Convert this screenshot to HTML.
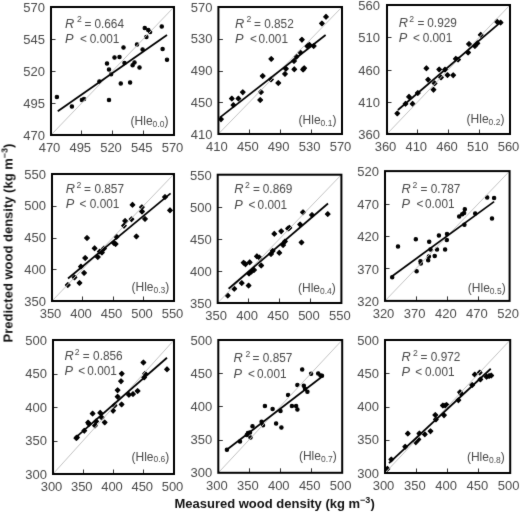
<!DOCTYPE html>
<html><head><meta charset="utf-8"><style>
html,body{margin:0;padding:0;background:#fff;}
svg{display:block;font-family:"Liberation Sans", sans-serif;will-change:transform;}
</style></head><body>
<svg width="520" height="512" viewBox="0 0 520 512">
<defs><filter id="bl" color-interpolation-filters="sRGB" x="0" y="0" width="520" height="512" filterUnits="userSpaceOnUse"><feConvolveMatrix order="3" kernelMatrix="0.01 0.07 0.01 0.07 0.68 0.07 0.01 0.07 0.01" divisor="1" edgeMode="duplicate"/></filter></defs>
<rect width="520" height="512" fill="#fff"/>
<g filter="url(#bl)"><rect width="520" height="512" fill="#fff"/>
<g fill="#4a4a4a">
<text transform="translate(49.50,152.00)" font-size="13" text-anchor="middle">470</text>
<text transform="translate(45.00,139.50)" font-size="13" text-anchor="end">470</text>
<line x1="81.50" y1="135" x2="81.50" y2="130.5" stroke="#333" stroke-width="1"/>
<line x1="51" y1="103.50" x2="55.5" y2="103.50" stroke="#333" stroke-width="1"/>
<text transform="translate(80.25,152.00)" font-size="13" text-anchor="middle">495</text>
<text transform="translate(45.00,107.50)" font-size="13" text-anchor="end">495</text>
<line x1="112.50" y1="135" x2="112.50" y2="130.5" stroke="#333" stroke-width="1"/>
<line x1="51" y1="71.50" x2="55.5" y2="71.50" stroke="#333" stroke-width="1"/>
<text transform="translate(111.00,152.00)" font-size="13" text-anchor="middle">520</text>
<text transform="translate(45.00,75.50)" font-size="13" text-anchor="end">520</text>
<line x1="143.50" y1="135" x2="143.50" y2="130.5" stroke="#333" stroke-width="1"/>
<line x1="51" y1="39.50" x2="55.5" y2="39.50" stroke="#333" stroke-width="1"/>
<text transform="translate(141.75,152.00)" font-size="13" text-anchor="middle">545</text>
<text transform="translate(45.00,43.50)" font-size="13" text-anchor="end">545</text>
<text transform="translate(172.50,152.00)" font-size="13" text-anchor="middle">570</text>
<text transform="translate(45.00,11.50)" font-size="13" text-anchor="end">570</text>
</g>
<g fill="#000" stroke="#000" stroke-width="1.1" stroke-linejoin="round">
<circle cx="56.9" cy="96.9" r="1.7"/>
<circle cx="71.9" cy="106.5" r="1.7"/>
<circle cx="81.9" cy="99.9" r="1.7"/>
<circle cx="84" cy="99" r="1.7"/>
<circle cx="99.4" cy="81.5" r="1.7"/>
<circle cx="107" cy="63.5" r="1.7"/>
<circle cx="109" cy="69.6" r="1.7"/>
<circle cx="111.1" cy="74.3" r="1.7"/>
<circle cx="109" cy="100" r="1.7"/>
<circle cx="114.5" cy="57.5" r="1.7"/>
<circle cx="119.5" cy="56.9" r="1.7"/>
<circle cx="120.75" cy="83.4" r="1.7"/>
<circle cx="123.5" cy="47.5" r="1.7"/>
<circle cx="124.5" cy="63.1" r="1.7"/>
<circle cx="130.1" cy="82.5" r="1.7"/>
<circle cx="132.6" cy="65.25" r="1.7"/>
<circle cx="134.5" cy="62.5" r="1.7"/>
<circle cx="137" cy="44.4" r="1.7"/>
<circle cx="139.5" cy="67.5" r="1.7"/>
<circle cx="142.6" cy="49.4" r="1.7"/>
<circle cx="144.75" cy="28.1" r="1.7"/>
<circle cx="148.25" cy="30" r="1.7"/>
<circle cx="150.1" cy="31.9" r="1.7"/>
<circle cx="146.4" cy="36.9" r="1.7"/>
<circle cx="161.75" cy="26.5" r="1.7"/>
<circle cx="162.6" cy="49.1" r="1.7"/>
<circle cx="167" cy="59.75" r="1.7"/>
</g>
<line x1="51" y1="135" x2="174" y2="7" stroke="#c4c4c4" stroke-width="1"/>
<line x1="57.75" y1="111.25" x2="167" y2="35" stroke="#000" stroke-width="1.75"/>
<rect x="51" y="7" width="123.00" height="128.00" fill="none" stroke="#000" stroke-width="2"/>
<g fill="#4a4a4a">
<text transform="translate(65.10,27.80)" font-size="12.8" font-style="italic">R</text>
<text transform="translate(77.10,22.40) scale(0.91,1.0)" font-size="9.5">2</text>
<text transform="translate(84.60,27.80) scale(0.91,1.0)" font-size="13">=</text>
<text transform="translate(94.40,27.80) scale(0.91,1.0)" font-size="13">0.664</text>
<text transform="translate(65.10,43.20)" font-size="12.8" font-style="italic">P</text>
<text transform="translate(80.00,43.20) scale(0.91,1.0)" font-size="13">&lt;</text>
<text transform="translate(89.80,43.20) scale(0.91,1.0)" font-size="13">0.001</text>
<text transform="translate(130.60,125.10)" font-size="12">(Hle<tspan font-size="8.5" dy="1.8">0.0</tspan><tspan dy="-1.8">)</tspan></text>
</g>
<g fill="#4a4a4a">
<text transform="translate(216.90,151.00)" font-size="13" text-anchor="middle">410</text>
<text transform="translate(212.40,138.50)" font-size="13" text-anchor="end">410</text>
<line x1="249.50" y1="134" x2="249.50" y2="129.5" stroke="#333" stroke-width="1"/>
<line x1="218.4" y1="102.50" x2="222.9" y2="102.50" stroke="#333" stroke-width="1"/>
<text transform="translate(247.80,151.00)" font-size="13" text-anchor="middle">450</text>
<text transform="translate(212.40,106.75)" font-size="13" text-anchor="end">450</text>
<line x1="280.50" y1="134" x2="280.50" y2="129.5" stroke="#333" stroke-width="1"/>
<line x1="218.4" y1="71.50" x2="222.9" y2="71.50" stroke="#333" stroke-width="1"/>
<text transform="translate(278.70,151.00)" font-size="13" text-anchor="middle">490</text>
<text transform="translate(212.40,75.00)" font-size="13" text-anchor="end">490</text>
<line x1="311.50" y1="134" x2="311.50" y2="129.5" stroke="#333" stroke-width="1"/>
<line x1="218.4" y1="39.50" x2="222.9" y2="39.50" stroke="#333" stroke-width="1"/>
<text transform="translate(309.60,151.00)" font-size="13" text-anchor="middle">530</text>
<text transform="translate(212.40,43.25)" font-size="13" text-anchor="end">530</text>
<text transform="translate(340.50,151.00)" font-size="13" text-anchor="middle">570</text>
<text transform="translate(212.40,11.50)" font-size="13" text-anchor="end">570</text>
</g>
<g fill="#000" stroke="#000" stroke-width="1.1" stroke-linejoin="round">
<path d="M326.00 14.45L328.35 16.80L326.00 19.15L323.65 16.80Z"/>
<path d="M321.90 21.05L324.25 23.40L321.90 25.75L319.55 23.40Z"/>
<path d="M301.90 37.35L304.25 39.70L301.90 42.05L299.55 39.70Z"/>
<path d="M307.20 43.65L309.55 46.00L307.20 48.35L304.85 46.00Z"/>
<path d="M309.40 42.45L311.75 44.80L309.40 47.15L307.05 44.80Z"/>
<path d="M313.70 43.65L316.05 46.00L313.70 48.35L311.35 46.00Z"/>
<path d="M300.30 50.05L302.65 52.40L300.30 54.75L297.95 52.40Z"/>
<path d="M296.50 54.35L298.85 56.70L296.50 59.05L294.15 56.70Z"/>
<path d="M294.00 58.65L296.35 61.00L294.00 63.35L291.65 61.00Z"/>
<path d="M271.25 56.55L273.60 58.90L271.25 61.25L268.90 58.90Z"/>
<path d="M303.10 67.15L305.45 69.50L303.10 71.85L300.75 69.50Z"/>
<path d="M304.20 65.85L306.55 68.20L304.20 70.55L301.85 68.20Z"/>
<path d="M294.30 66.95L296.65 69.30L294.30 71.65L291.95 69.30Z"/>
<path d="M285.90 66.40L288.25 68.75L285.90 71.10L283.55 68.75Z"/>
<path d="M285.00 71.55L287.35 73.90L285.00 76.25L282.65 73.90Z"/>
<path d="M262.70 73.65L265.05 76.00L262.70 78.35L260.35 76.00Z"/>
<path d="M271.00 77.05L273.35 79.40L271.00 81.75L268.65 79.40Z"/>
<path d="M278.30 80.65L280.65 83.00L278.30 85.35L275.95 83.00Z"/>
<path d="M242.80 89.85L245.15 92.20L242.80 94.55L240.45 92.20Z"/>
<path d="M261.00 89.75L263.35 92.10L261.00 94.45L258.65 92.10Z"/>
<path d="M260.20 97.65L262.55 100.00L260.20 102.35L257.85 100.00Z"/>
<path d="M231.80 96.25L234.15 98.60L231.80 100.95L229.45 98.60Z"/>
<path d="M238.40 96.25L240.75 98.60L238.40 100.95L236.05 98.60Z"/>
<path d="M233.40 102.75L235.75 105.10L233.40 107.45L231.05 105.10Z"/>
<path d="M221.00 116.85L223.35 119.20L221.00 121.55L218.65 119.20Z"/>
</g>
<line x1="218.4" y1="134" x2="342" y2="7" stroke="#c4c4c4" stroke-width="1"/>
<line x1="219.75" y1="117.6" x2="325.6" y2="35" stroke="#000" stroke-width="1.75"/>
<rect x="218.4" y="7" width="123.60" height="127.00" fill="none" stroke="#000" stroke-width="2"/>
<g fill="#4a4a4a">
<text transform="translate(235.00,27.80)" font-size="12.8" font-style="italic">R</text>
<text transform="translate(246.40,22.40) scale(0.91,1.0)" font-size="9.5">2</text>
<text transform="translate(253.90,27.80) scale(0.91,1.0)" font-size="13">=</text>
<text transform="translate(264.20,27.80) scale(0.91,1.0)" font-size="13">0.852</text>
<text transform="translate(235.00,42.60)" font-size="12.8" font-style="italic">P</text>
<text transform="translate(249.90,42.60) scale(0.91,1.0)" font-size="13">&lt;</text>
<text transform="translate(258.40,42.60) scale(0.91,1.0)" font-size="13">0.001</text>
<text transform="translate(298.60,124.00)" font-size="12">(Hle<tspan font-size="8.5" dy="1.8">0.1</tspan><tspan dy="-1.8">)</tspan></text>
</g>
<g fill="#4a4a4a">
<text transform="translate(385.50,151.00)" font-size="13" text-anchor="middle">360</text>
<text transform="translate(380.00,139.20)" font-size="13" text-anchor="end">360</text>
<line x1="417.50" y1="134" x2="417.50" y2="129.5" stroke="#333" stroke-width="1"/>
<line x1="387" y1="102.50" x2="391.5" y2="102.50" stroke="#333" stroke-width="1"/>
<text transform="translate(416.25,151.00)" font-size="13" text-anchor="middle">410</text>
<text transform="translate(380.00,106.95)" font-size="13" text-anchor="end">410</text>
<line x1="448.50" y1="134" x2="448.50" y2="129.5" stroke="#333" stroke-width="1"/>
<line x1="387" y1="70.50" x2="391.5" y2="70.50" stroke="#333" stroke-width="1"/>
<text transform="translate(447.00,151.00)" font-size="13" text-anchor="middle">460</text>
<text transform="translate(380.00,74.70)" font-size="13" text-anchor="end">460</text>
<line x1="479.50" y1="134" x2="479.50" y2="129.5" stroke="#333" stroke-width="1"/>
<line x1="387" y1="37.50" x2="391.5" y2="37.50" stroke="#333" stroke-width="1"/>
<text transform="translate(477.75,151.00)" font-size="13" text-anchor="middle">510</text>
<text transform="translate(380.00,42.45)" font-size="13" text-anchor="end">510</text>
<text transform="translate(508.50,151.00)" font-size="13" text-anchor="middle">560</text>
<text transform="translate(380.00,10.20)" font-size="13" text-anchor="end">560</text>
</g>
<g fill="#000" stroke="#000" stroke-width="1.1" stroke-linejoin="round">
<path d="M496.90 19.25L499.25 21.60L496.90 23.95L494.55 21.60Z"/>
<path d="M500.60 20.25L502.95 22.60L500.60 24.95L498.25 22.60Z"/>
<path d="M480.70 32.45L483.05 34.80L480.70 37.15L478.35 34.80Z"/>
<path d="M469.00 41.65L471.35 44.00L469.00 46.35L466.65 44.00Z"/>
<path d="M474.90 43.65L477.25 46.00L474.90 48.35L472.55 46.00Z"/>
<path d="M477.40 40.95L479.75 43.30L477.40 45.65L475.05 43.30Z"/>
<path d="M468.10 50.15L470.45 52.50L468.10 54.85L465.75 52.50Z"/>
<path d="M455.80 56.45L458.15 58.80L455.80 61.15L453.45 58.80Z"/>
<path d="M458.10 57.25L460.45 59.60L458.10 61.95L455.75 59.60Z"/>
<path d="M426.40 65.95L428.75 68.30L426.40 70.65L424.05 68.30Z"/>
<path d="M439.20 67.05L441.55 69.40L439.20 71.75L436.85 69.40Z"/>
<path d="M445.00 67.25L447.35 69.60L445.00 71.95L442.65 69.60Z"/>
<path d="M447.50 72.75L449.85 75.10L447.50 77.45L445.15 75.10Z"/>
<path d="M453.20 72.85L455.55 75.20L453.20 77.55L450.85 75.20Z"/>
<path d="M441.00 75.05L443.35 77.40L441.00 79.75L438.65 77.40Z"/>
<path d="M428.10 77.35L430.45 79.70L428.10 82.05L425.75 79.70Z"/>
<path d="M434.60 80.95L436.95 83.30L434.60 85.65L432.25 83.30Z"/>
<path d="M433.50 87.35L435.85 89.70L433.50 92.05L431.15 89.70Z"/>
<path d="M417.80 90.65L420.15 93.00L417.80 95.35L415.45 93.00Z"/>
<path d="M409.00 94.45L411.35 96.80L409.00 99.15L406.65 96.80Z"/>
<path d="M405.50 101.45L407.85 103.80L405.50 106.15L403.15 103.80Z"/>
<path d="M412.60 101.45L414.95 103.80L412.60 106.15L410.25 103.80Z"/>
<path d="M397.30 111.05L399.65 113.40L397.30 115.75L394.95 113.40Z"/>
</g>
<line x1="387" y1="134" x2="510" y2="5" stroke="#c4c4c4" stroke-width="1"/>
<line x1="397.9" y1="110" x2="499.25" y2="23.4" stroke="#000" stroke-width="1.75"/>
<rect x="387" y="5" width="123.00" height="129.00" fill="none" stroke="#000" stroke-width="2"/>
<g fill="#4a4a4a">
<text transform="translate(398.70,27.00)" font-size="12.8" font-style="italic">R</text>
<text transform="translate(409.20,21.60) scale(0.91,1.0)" font-size="9.5">2</text>
<text transform="translate(417.60,27.00) scale(0.91,1.0)" font-size="13">=</text>
<text transform="translate(427.30,27.00) scale(0.91,1.0)" font-size="13">0.929</text>
<text transform="translate(398.70,41.80)" font-size="12.8" font-style="italic">P</text>
<text transform="translate(412.90,41.80) scale(0.91,1.0)" font-size="13">&lt;</text>
<text transform="translate(422.70,41.80) scale(0.91,1.0)" font-size="13">0.001</text>
<text transform="translate(466.60,123.10)" font-size="12">(Hle<tspan font-size="8.5" dy="1.8">0.2</tspan><tspan dy="-1.8">)</tspan></text>
</g>
<g fill="#4a4a4a">
<text transform="translate(50.50,318.00)" font-size="13" text-anchor="middle">350</text>
<text transform="translate(46.00,305.50)" font-size="13" text-anchor="end">350</text>
<line x1="82.50" y1="301" x2="82.50" y2="296.5" stroke="#333" stroke-width="1"/>
<line x1="52" y1="269.50" x2="56.5" y2="269.50" stroke="#333" stroke-width="1"/>
<text transform="translate(81.00,318.00)" font-size="13" text-anchor="middle">400</text>
<text transform="translate(46.00,273.75)" font-size="13" text-anchor="end">400</text>
<line x1="113.50" y1="301" x2="113.50" y2="296.5" stroke="#333" stroke-width="1"/>
<line x1="52" y1="238.50" x2="56.5" y2="238.50" stroke="#333" stroke-width="1"/>
<text transform="translate(111.50,318.00)" font-size="13" text-anchor="middle">450</text>
<text transform="translate(46.00,242.00)" font-size="13" text-anchor="end">450</text>
<line x1="143.50" y1="301" x2="143.50" y2="296.5" stroke="#333" stroke-width="1"/>
<line x1="52" y1="206.50" x2="56.5" y2="206.50" stroke="#333" stroke-width="1"/>
<text transform="translate(142.00,318.00)" font-size="13" text-anchor="middle">500</text>
<text transform="translate(46.00,210.25)" font-size="13" text-anchor="end">500</text>
<text transform="translate(172.50,318.00)" font-size="13" text-anchor="middle">550</text>
<text transform="translate(46.00,178.50)" font-size="13" text-anchor="end">550</text>
</g>
<g fill="#000" stroke="#000" stroke-width="1.1" stroke-linejoin="round">
<path d="M165.00 194.65L167.35 197.00L165.00 199.35L162.65 197.00Z"/>
<path d="M170.00 207.95L172.35 210.30L170.00 212.65L167.65 210.30Z"/>
<path d="M132.50 202.45L134.85 204.80L132.50 207.15L130.15 204.80Z"/>
<path d="M141.90 204.85L144.25 207.20L141.90 209.55L139.55 207.20Z"/>
<path d="M142.00 209.15L144.35 211.50L142.00 213.85L139.65 211.50Z"/>
<path d="M145.00 216.55L147.35 218.90L145.00 221.25L142.65 218.90Z"/>
<path d="M131.50 216.85L133.85 219.20L131.50 221.55L129.15 219.20Z"/>
<path d="M125.10 218.55L127.45 220.90L125.10 223.25L122.75 220.90Z"/>
<path d="M124.00 223.35L126.35 225.70L124.00 228.05L121.65 225.70Z"/>
<path d="M136.40 234.05L138.75 236.40L136.40 238.75L134.05 236.40Z"/>
<path d="M116.60 234.45L118.95 236.80L116.60 239.15L114.25 236.80Z"/>
<path d="M113.90 240.65L116.25 243.00L113.90 245.35L111.55 243.00Z"/>
<path d="M115.60 241.65L117.95 244.00L115.60 246.35L113.25 244.00Z"/>
<path d="M87.00 235.65L89.35 238.00L87.00 240.35L84.65 238.00Z"/>
<path d="M94.60 245.95L96.95 248.30L94.60 250.65L92.25 248.30Z"/>
<path d="M104.00 246.15L106.35 248.50L104.00 250.85L101.65 248.50Z"/>
<path d="M99.80 249.25L102.15 251.60L99.80 253.95L97.45 251.60Z"/>
<path d="M101.90 250.15L104.25 252.50L101.90 254.85L99.55 252.50Z"/>
<path d="M97.80 254.65L100.15 257.00L97.80 259.35L95.45 257.00Z"/>
<path d="M85.20 255.65L87.55 258.00L85.20 260.35L82.85 258.00Z"/>
<path d="M80.90 264.25L83.25 266.60L80.90 268.95L78.55 266.60Z"/>
<path d="M84.10 270.55L86.45 272.90L84.10 275.25L81.75 272.90Z"/>
<path d="M74.50 275.05L76.85 277.40L74.50 279.75L72.15 277.40Z"/>
<path d="M79.50 280.55L81.85 282.90L79.50 285.25L77.15 282.90Z"/>
<path d="M67.80 282.65L70.15 285.00L67.80 287.35L65.45 285.00Z"/>
</g>
<line x1="52" y1="301" x2="174" y2="174" stroke="#c4c4c4" stroke-width="1"/>
<line x1="68" y1="278.5" x2="170.6" y2="193.4" stroke="#000" stroke-width="1.75"/>
<rect x="52" y="174" width="122.00" height="127.00" fill="none" stroke="#000" stroke-width="2"/>
<g fill="#4a4a4a">
<text transform="translate(65.80,193.20)" font-size="12.8" font-style="italic">R</text>
<text transform="translate(76.50,187.80) scale(0.91,1.0)" font-size="9.5">2</text>
<text transform="translate(84.00,193.20) scale(0.91,1.0)" font-size="13">=</text>
<text transform="translate(94.40,193.20) scale(0.91,1.0)" font-size="13">0.857</text>
<text transform="translate(65.80,207.90)" font-size="12.8" font-style="italic">P</text>
<text transform="translate(79.40,207.90) scale(0.91,1.0)" font-size="13">&lt;</text>
<text transform="translate(89.80,207.90) scale(0.91,1.0)" font-size="13">0.001</text>
<text transform="translate(131.50,290.90)" font-size="12">(Hle<tspan font-size="8.5" dy="1.8">0.3</tspan><tspan dy="-1.8">)</tspan></text>
</g>
<g fill="#4a4a4a">
<text transform="translate(216.20,320.00)" font-size="13" text-anchor="middle">350</text>
<text transform="translate(211.70,307.80)" font-size="13" text-anchor="end">350</text>
<line x1="248.50" y1="303" x2="248.50" y2="298.5" stroke="#333" stroke-width="1"/>
<line x1="217.7" y1="271.50" x2="222.2" y2="271.50" stroke="#333" stroke-width="1"/>
<text transform="translate(247.12,320.00)" font-size="13" text-anchor="middle">400</text>
<text transform="translate(211.70,275.73)" font-size="13" text-anchor="end">400</text>
<line x1="279.50" y1="303" x2="279.50" y2="298.5" stroke="#333" stroke-width="1"/>
<line x1="217.7" y1="239.50" x2="222.2" y2="239.50" stroke="#333" stroke-width="1"/>
<text transform="translate(278.05,320.00)" font-size="13" text-anchor="middle">450</text>
<text transform="translate(211.70,243.65)" font-size="13" text-anchor="end">450</text>
<line x1="310.50" y1="303" x2="310.50" y2="298.5" stroke="#333" stroke-width="1"/>
<line x1="217.7" y1="207.50" x2="222.2" y2="207.50" stroke="#333" stroke-width="1"/>
<text transform="translate(308.97,320.00)" font-size="13" text-anchor="middle">500</text>
<text transform="translate(211.70,211.57)" font-size="13" text-anchor="end">500</text>
<text transform="translate(339.90,320.00)" font-size="13" text-anchor="middle">550</text>
<text transform="translate(211.70,179.50)" font-size="13" text-anchor="end">550</text>
</g>
<g fill="#000" stroke="#000" stroke-width="1.1" stroke-linejoin="round">
<path d="M303.00 209.90L305.35 212.25L303.00 214.60L300.65 212.25Z"/>
<path d="M312.00 212.65L314.35 215.00L312.00 217.35L309.65 215.00Z"/>
<path d="M327.75 211.75L330.10 214.10L327.75 216.45L325.40 214.10Z"/>
<path d="M300.10 222.05L302.45 224.40L300.10 226.75L297.75 224.40Z"/>
<path d="M288.10 226.15L290.45 228.50L288.10 230.85L285.75 228.50Z"/>
<path d="M289.40 225.45L291.75 227.80L289.40 230.15L287.05 227.80Z"/>
<path d="M281.20 228.85L283.55 231.20L281.20 233.55L278.85 231.20Z"/>
<path d="M274.30 231.45L276.65 233.80L274.30 236.15L271.95 233.80Z"/>
<path d="M301.50 240.05L303.85 242.40L301.50 244.75L299.15 242.40Z"/>
<path d="M285.00 239.05L287.35 241.40L285.00 243.75L282.65 241.40Z"/>
<path d="M283.10 242.75L285.45 245.10L283.10 247.45L280.75 245.10Z"/>
<path d="M279.30 250.45L281.65 252.80L279.30 255.15L276.95 252.80Z"/>
<path d="M272.70 248.55L275.05 250.90L272.70 253.25L270.35 250.90Z"/>
<path d="M271.00 251.65L273.35 254.00L271.00 256.35L268.65 254.00Z"/>
<path d="M256.90 253.95L259.25 256.30L256.90 258.65L254.55 256.30Z"/>
<path d="M259.30 255.15L261.65 257.50L259.30 259.85L256.95 257.50Z"/>
<path d="M261.20 263.15L263.55 265.50L261.20 267.85L258.85 265.50Z"/>
<path d="M243.60 260.35L245.95 262.70L243.60 265.05L241.25 262.70Z"/>
<path d="M245.50 261.85L247.85 264.20L245.50 266.55L243.15 264.20Z"/>
<path d="M249.70 259.95L252.05 262.30L249.70 264.65L247.35 262.30Z"/>
<path d="M254.00 267.65L256.35 270.00L254.00 272.35L251.65 270.00Z"/>
<path d="M251.50 269.25L253.85 271.60L251.50 273.95L249.15 271.60Z"/>
<path d="M249.00 271.25L251.35 273.60L249.00 275.95L246.65 273.60Z"/>
<path d="M241.75 280.75L244.10 283.10L241.75 285.45L239.40 283.10Z"/>
<path d="M248.60 283.25L250.95 285.60L248.60 287.95L246.25 285.60Z"/>
<path d="M234.25 286.40L236.60 288.75L234.25 291.10L231.90 288.75Z"/>
<path d="M227.75 293.25L230.10 295.60L227.75 297.95L225.40 295.60Z"/>
</g>
<line x1="217.7" y1="303" x2="341.4" y2="174.7" stroke="#c4c4c4" stroke-width="1"/>
<line x1="228.6" y1="288.75" x2="328" y2="203.5" stroke="#000" stroke-width="1.75"/>
<rect x="217.7" y="174.7" width="123.70" height="128.30" fill="none" stroke="#000" stroke-width="2"/>
<g fill="#4a4a4a">
<text transform="translate(234.20,193.20)" font-size="12.8" font-style="italic">R</text>
<text transform="translate(245.00,187.80) scale(0.91,1.0)" font-size="9.5">2</text>
<text transform="translate(253.10,193.20) scale(0.91,1.0)" font-size="13">=</text>
<text transform="translate(262.80,193.20) scale(0.91,1.0)" font-size="13">0.869</text>
<text transform="translate(234.20,208.60)" font-size="12.8" font-style="italic">P</text>
<text transform="translate(248.50,208.60) scale(0.91,1.0)" font-size="13">&lt;</text>
<text transform="translate(257.60,208.60) scale(0.91,1.0)" font-size="13">0.001</text>
<text transform="translate(298.00,292.00)" font-size="12">(Hle<tspan font-size="8.5" dy="1.8">0.4</tspan><tspan dy="-1.8">)</tspan></text>
</g>
<g fill="#4a4a4a">
<text transform="translate(383.50,317.90)" font-size="13" text-anchor="middle">320</text>
<text transform="translate(379.00,306.00)" font-size="13" text-anchor="end">320</text>
<line x1="416.50" y1="300.9" x2="416.50" y2="296.4" stroke="#333" stroke-width="1"/>
<line x1="385" y1="268.50" x2="389.5" y2="268.50" stroke="#333" stroke-width="1"/>
<text transform="translate(414.65,317.90)" font-size="13" text-anchor="middle">370</text>
<text transform="translate(379.00,273.55)" font-size="13" text-anchor="end">370</text>
<line x1="447.50" y1="300.9" x2="447.50" y2="296.4" stroke="#333" stroke-width="1"/>
<line x1="385" y1="236.50" x2="389.5" y2="236.50" stroke="#333" stroke-width="1"/>
<text transform="translate(445.80,317.90)" font-size="13" text-anchor="middle">420</text>
<text transform="translate(379.00,241.10)" font-size="13" text-anchor="end">420</text>
<line x1="478.50" y1="300.9" x2="478.50" y2="296.4" stroke="#333" stroke-width="1"/>
<line x1="385" y1="204.50" x2="389.5" y2="204.50" stroke="#333" stroke-width="1"/>
<text transform="translate(476.95,317.90)" font-size="13" text-anchor="middle">470</text>
<text transform="translate(379.00,208.65)" font-size="13" text-anchor="end">470</text>
<text transform="translate(508.10,317.90)" font-size="13" text-anchor="middle">520</text>
<text transform="translate(379.00,176.20)" font-size="13" text-anchor="end">520</text>
</g>
<g fill="#000" stroke="#000" stroke-width="1.1" stroke-linejoin="round">
<circle cx="487.2" cy="197.4" r="1.7"/>
<circle cx="494.1" cy="198.1" r="1.7"/>
<circle cx="464.8" cy="209.2" r="1.7"/>
<circle cx="464.1" cy="213" r="1.7"/>
<circle cx="462.2" cy="214.2" r="1.7"/>
<circle cx="459.2" cy="216.4" r="1.7"/>
<circle cx="475.2" cy="213.4" r="1.7"/>
<circle cx="492" cy="218.4" r="1.7"/>
<circle cx="464.4" cy="224.8" r="1.7"/>
<circle cx="447" cy="234" r="1.7"/>
<circle cx="446.8" cy="239.9" r="1.7"/>
<circle cx="438.9" cy="235.5" r="1.7"/>
<circle cx="415.8" cy="239.2" r="1.7"/>
<circle cx="429.2" cy="241.8" r="1.7"/>
<circle cx="398" cy="246.4" r="1.7"/>
<circle cx="430.5" cy="249.5" r="1.7"/>
<circle cx="437" cy="249.4" r="1.7"/>
<circle cx="445.1" cy="249.4" r="1.7"/>
<circle cx="428.9" cy="256.4" r="1.7"/>
<circle cx="434.7" cy="255.9" r="1.7"/>
<circle cx="428.2" cy="260.3" r="1.7"/>
<circle cx="420.5" cy="261.2" r="1.7"/>
<circle cx="420.8" cy="263.4" r="1.7"/>
<circle cx="416.6" cy="271.2" r="1.7"/>
<circle cx="392.2" cy="277.2" r="1.7"/>
</g>
<line x1="385" y1="300.9" x2="509.6" y2="171.1" stroke="#c4c4c4" stroke-width="1"/>
<line x1="392.1" y1="276.25" x2="494.1" y2="201.6" stroke="#000" stroke-width="1.75"/>
<rect x="385" y="171.1" width="124.60" height="129.80" fill="none" stroke="#000" stroke-width="2"/>
<g fill="#4a4a4a">
<text transform="translate(401.60,193.00)" font-size="12.8" font-style="italic">R</text>
<text transform="translate(412.40,187.60) scale(0.91,1.0)" font-size="9.5">2</text>
<text transform="translate(420.50,193.00) scale(0.91,1.0)" font-size="13">=</text>
<text transform="translate(430.80,193.00) scale(0.91,1.0)" font-size="13">0.787</text>
<text transform="translate(401.60,207.80)" font-size="12.8" font-style="italic">P</text>
<text transform="translate(416.50,207.80) scale(0.91,1.0)" font-size="13">&lt;</text>
<text transform="translate(425.00,207.80) scale(0.91,1.0)" font-size="13">0.001</text>
<text transform="translate(467.80,292.20)" font-size="12">(Hle<tspan font-size="8.5" dy="1.8">0.5</tspan><tspan dy="-1.8">)</tspan></text>
</g>
<g fill="#4a4a4a">
<text transform="translate(51.50,491.00)" font-size="13" text-anchor="middle">300</text>
<text transform="translate(47.00,478.50)" font-size="13" text-anchor="end">300</text>
<line x1="83.50" y1="474" x2="83.50" y2="469.5" stroke="#333" stroke-width="1"/>
<line x1="53" y1="441.50" x2="57.5" y2="441.50" stroke="#333" stroke-width="1"/>
<text transform="translate(81.75,491.00)" font-size="13" text-anchor="middle">350</text>
<text transform="translate(47.00,445.00)" font-size="13" text-anchor="end">350</text>
<line x1="113.50" y1="474" x2="113.50" y2="469.5" stroke="#333" stroke-width="1"/>
<line x1="53" y1="407.50" x2="57.5" y2="407.50" stroke="#333" stroke-width="1"/>
<text transform="translate(112.00,491.00)" font-size="13" text-anchor="middle">400</text>
<text transform="translate(47.00,411.50)" font-size="13" text-anchor="end">400</text>
<line x1="143.50" y1="474" x2="143.50" y2="469.5" stroke="#333" stroke-width="1"/>
<line x1="53" y1="374.50" x2="57.5" y2="374.50" stroke="#333" stroke-width="1"/>
<text transform="translate(142.25,491.00)" font-size="13" text-anchor="middle">450</text>
<text transform="translate(47.00,378.00)" font-size="13" text-anchor="end">450</text>
<text transform="translate(172.50,491.00)" font-size="13" text-anchor="middle">500</text>
<text transform="translate(47.00,344.50)" font-size="13" text-anchor="end">500</text>
</g>
<g fill="#000" stroke="#000" stroke-width="1.1" stroke-linejoin="round">
<path d="M143.40 360.15L145.75 362.50L143.40 364.85L141.05 362.50Z"/>
<path d="M167.00 366.95L169.35 369.30L167.00 371.65L164.65 369.30Z"/>
<path d="M121.75 371.35L124.10 373.70L121.75 376.05L119.40 373.70Z"/>
<path d="M121.00 378.85L123.35 381.20L121.00 383.55L118.65 381.20Z"/>
<path d="M145.10 371.35L147.45 373.70L145.10 376.05L142.75 373.70Z"/>
<path d="M144.20 375.05L146.55 377.40L144.20 379.75L141.85 377.40Z"/>
<path d="M117.60 387.85L119.95 390.20L117.60 392.55L115.25 390.20Z"/>
<path d="M137.60 388.65L139.95 391.00L137.60 393.35L135.25 391.00Z"/>
<path d="M128.90 392.45L131.25 394.80L128.90 397.15L126.55 394.80Z"/>
<path d="M133.00 391.75L135.35 394.10L133.00 396.45L130.65 394.10Z"/>
<path d="M117.60 394.35L119.95 396.70L117.60 399.05L115.25 396.70Z"/>
<path d="M121.60 402.05L123.95 404.40L121.60 406.75L119.25 404.40Z"/>
<path d="M114.50 403.15L116.85 405.50L114.50 407.85L112.15 405.50Z"/>
<path d="M113.10 408.35L115.45 410.70L113.10 413.05L110.75 410.70Z"/>
<path d="M92.60 411.25L94.95 413.60L92.60 415.95L90.25 413.60Z"/>
<path d="M100.20 410.45L102.55 412.80L100.20 415.15L97.85 412.80Z"/>
<path d="M101.70 415.25L104.05 417.60L101.70 419.95L99.35 417.60Z"/>
<path d="M104.70 420.05L107.05 422.40L104.70 424.75L102.35 422.40Z"/>
<path d="M96.20 418.95L98.55 421.30L96.20 423.65L93.85 421.30Z"/>
<path d="M95.00 423.25L97.35 425.60L95.00 427.95L92.65 425.60Z"/>
<path d="M88.10 420.25L90.45 422.60L88.10 424.95L85.75 422.60Z"/>
<path d="M88.90 421.55L91.25 423.90L88.90 426.25L86.55 423.90Z"/>
<path d="M84.30 428.35L86.65 430.70L84.30 433.05L81.95 430.70Z"/>
<path d="M76.30 435.75L78.65 438.10L76.30 440.45L73.95 438.10Z"/>
<path d="M77.00 435.05L79.35 437.40L77.00 439.75L74.65 437.40Z"/>
</g>
<line x1="53" y1="474" x2="174" y2="340" stroke="#c4c4c4" stroke-width="1"/>
<line x1="75" y1="438.1" x2="167" y2="357.75" stroke="#000" stroke-width="1.75"/>
<rect x="53" y="340" width="121.00" height="134.00" fill="none" stroke="#000" stroke-width="2"/>
<g fill="#4a4a4a">
<text transform="translate(64.50,360.40)" font-size="12.8" font-style="italic">R</text>
<text transform="translate(74.70,355.00) scale(0.91,1.0)" font-size="9.5">2</text>
<text transform="translate(82.80,360.40) scale(0.91,1.0)" font-size="13">=</text>
<text transform="translate(93.10,360.40) scale(0.91,1.0)" font-size="13">0.856</text>
<text transform="translate(64.50,375.20)" font-size="12.8" font-style="italic">P</text>
<text transform="translate(78.20,375.20) scale(0.91,1.0)" font-size="13">&lt;</text>
<text transform="translate(87.30,375.20) scale(0.91,1.0)" font-size="13">0.001</text>
<text transform="translate(131.50,460.50)" font-size="12">(Hle<tspan font-size="8.5" dy="1.8">0.6</tspan><tspan dy="-1.8">)</tspan></text>
</g>
<g fill="#4a4a4a">
<text transform="translate(216.80,489.80)" font-size="13" text-anchor="middle">300</text>
<text transform="translate(212.30,477.30)" font-size="13" text-anchor="end">300</text>
<line x1="249.50" y1="472.8" x2="249.50" y2="468.3" stroke="#333" stroke-width="1"/>
<line x1="218.3" y1="440.50" x2="222.8" y2="440.50" stroke="#333" stroke-width="1"/>
<text transform="translate(247.78,489.80)" font-size="13" text-anchor="middle">350</text>
<text transform="translate(212.30,444.10)" font-size="13" text-anchor="end">350</text>
<line x1="280.50" y1="472.8" x2="280.50" y2="468.3" stroke="#333" stroke-width="1"/>
<line x1="218.3" y1="406.50" x2="222.8" y2="406.50" stroke="#333" stroke-width="1"/>
<text transform="translate(278.75,489.80)" font-size="13" text-anchor="middle">400</text>
<text transform="translate(212.30,410.90)" font-size="13" text-anchor="end">400</text>
<line x1="311.50" y1="472.8" x2="311.50" y2="468.3" stroke="#333" stroke-width="1"/>
<line x1="218.3" y1="373.50" x2="222.8" y2="373.50" stroke="#333" stroke-width="1"/>
<text transform="translate(309.73,489.80)" font-size="13" text-anchor="middle">450</text>
<text transform="translate(212.30,377.70)" font-size="13" text-anchor="end">450</text>
<text transform="translate(340.70,489.80)" font-size="13" text-anchor="middle">500</text>
<text transform="translate(212.30,344.50)" font-size="13" text-anchor="end">500</text>
</g>
<g fill="#000" stroke="#000" stroke-width="1.1" stroke-linejoin="round">
<circle cx="302.2" cy="369.4" r="1.7"/>
<circle cx="311.1" cy="373.8" r="1.7"/>
<circle cx="318.2" cy="373.4" r="1.7"/>
<circle cx="320.5" cy="375.6" r="1.7"/>
<circle cx="322" cy="375.8" r="1.7"/>
<circle cx="297.4" cy="385" r="1.7"/>
<circle cx="303.8" cy="385.8" r="1.7"/>
<circle cx="305" cy="388.7" r="1.7"/>
<circle cx="307.4" cy="391.8" r="1.7"/>
<circle cx="288.1" cy="395" r="1.7"/>
<circle cx="280.5" cy="410.9" r="1.7"/>
<circle cx="291.9" cy="406.1" r="1.7"/>
<circle cx="296.1" cy="406.1" r="1.7"/>
<circle cx="297.4" cy="409.5" r="1.7"/>
<circle cx="264.9" cy="406" r="1.7"/>
<circle cx="272.6" cy="408.9" r="1.7"/>
<circle cx="276.1" cy="423.5" r="1.7"/>
<circle cx="281.4" cy="427.6" r="1.7"/>
<circle cx="261.6" cy="421.8" r="1.7"/>
<circle cx="263" cy="425.2" r="1.7"/>
<circle cx="252.5" cy="426.3" r="1.7"/>
<circle cx="248" cy="433" r="1.7"/>
<circle cx="250" cy="432.5" r="1.7"/>
<circle cx="250.5" cy="437.4" r="1.7"/>
<circle cx="246.8" cy="435.1" r="1.7"/>
<circle cx="240" cy="441.6" r="1.7"/>
<circle cx="226.9" cy="449.8" r="1.7"/>
</g>
<line x1="218.3" y1="472.8" x2="342.2" y2="340" stroke="#c4c4c4" stroke-width="1"/>
<line x1="226.75" y1="449.75" x2="321.6" y2="377" stroke="#000" stroke-width="1.75"/>
<rect x="218.3" y="340" width="123.90" height="132.80" fill="none" stroke="#000" stroke-width="2"/>
<g fill="#4a4a4a">
<text transform="translate(233.60,362.20)" font-size="12.8" font-style="italic">R</text>
<text transform="translate(245.60,356.80) scale(0.91,1.0)" font-size="9.5">2</text>
<text transform="translate(252.50,362.20) scale(0.91,1.0)" font-size="13">=</text>
<text transform="translate(262.80,362.20) scale(0.91,1.0)" font-size="13">0.857</text>
<text transform="translate(233.60,378.20)" font-size="12.8" font-style="italic">P</text>
<text transform="translate(247.90,378.20) scale(0.91,1.0)" font-size="13">&lt;</text>
<text transform="translate(257.00,378.20) scale(0.91,1.0)" font-size="13">0.001</text>
<text transform="translate(298.90,460.30)" font-size="12">(Hle<tspan font-size="8.5" dy="1.8">0.7</tspan><tspan dy="-1.8">)</tspan></text>
</g>
<g fill="#4a4a4a">
<text transform="translate(383.50,490.00)" font-size="13" text-anchor="middle">300</text>
<text transform="translate(379.00,477.50)" font-size="13" text-anchor="end">300</text>
<line x1="416.50" y1="473" x2="416.50" y2="468.5" stroke="#333" stroke-width="1"/>
<line x1="385" y1="440.50" x2="389.5" y2="440.50" stroke="#333" stroke-width="1"/>
<text transform="translate(414.80,490.00)" font-size="13" text-anchor="middle">350</text>
<text transform="translate(379.00,444.25)" font-size="13" text-anchor="end">350</text>
<line x1="447.50" y1="473" x2="447.50" y2="468.5" stroke="#333" stroke-width="1"/>
<line x1="385" y1="407.50" x2="389.5" y2="407.50" stroke="#333" stroke-width="1"/>
<text transform="translate(446.10,490.00)" font-size="13" text-anchor="middle">400</text>
<text transform="translate(379.00,411.00)" font-size="13" text-anchor="end">400</text>
<line x1="478.50" y1="473" x2="478.50" y2="468.5" stroke="#333" stroke-width="1"/>
<line x1="385" y1="373.50" x2="389.5" y2="373.50" stroke="#333" stroke-width="1"/>
<text transform="translate(477.40,490.00)" font-size="13" text-anchor="middle">450</text>
<text transform="translate(379.00,377.75)" font-size="13" text-anchor="end">450</text>
<text transform="translate(508.70,490.00)" font-size="13" text-anchor="middle">500</text>
<text transform="translate(379.00,344.50)" font-size="13" text-anchor="end">500</text>
</g>
<g fill="#000" stroke="#000" stroke-width="1.1" stroke-linejoin="round">
<path d="M474.75 372.25L477.10 374.60L474.75 376.95L472.40 374.60Z"/>
<path d="M479.70 370.25L482.05 372.60L479.70 374.95L477.35 372.60Z"/>
<path d="M486.60 374.45L488.95 376.80L486.60 379.15L484.25 376.80Z"/>
<path d="M489.10 373.65L491.45 376.00L489.10 378.35L486.75 376.00Z"/>
<path d="M491.20 373.15L493.55 375.50L491.20 377.85L488.85 375.50Z"/>
<path d="M480.40 377.05L482.75 379.40L480.40 381.75L478.05 379.40Z"/>
<path d="M472.20 382.65L474.55 385.00L472.20 387.35L469.85 385.00Z"/>
<path d="M460.00 389.85L462.35 392.20L460.00 394.55L457.65 392.20Z"/>
<path d="M461.00 391.35L463.35 393.70L461.00 396.05L458.65 393.70Z"/>
<path d="M458.40 397.85L460.75 400.20L458.40 402.55L456.05 400.20Z"/>
<path d="M446.60 402.65L448.95 405.00L446.60 407.35L444.25 405.00Z"/>
<path d="M442.90 403.15L445.25 405.50L442.90 407.85L440.55 405.50Z"/>
<path d="M445.30 403.25L447.65 405.60L445.30 407.95L442.95 405.60Z"/>
<path d="M444.00 412.85L446.35 415.20L444.00 417.55L441.65 415.20Z"/>
<path d="M435.30 412.65L437.65 415.00L435.30 417.35L432.95 415.00Z"/>
<path d="M435.90 417.05L438.25 419.40L435.90 421.75L433.55 419.40Z"/>
<path d="M430.50 428.85L432.85 431.20L430.50 433.55L428.15 431.20Z"/>
<path d="M419.40 431.15L421.75 433.50L419.40 435.85L417.05 433.50Z"/>
<path d="M424.80 431.95L427.15 434.30L424.80 436.65L422.45 434.30Z"/>
<path d="M407.80 431.25L410.15 433.60L407.80 435.95L405.45 433.60Z"/>
<path d="M415.80 439.85L418.15 442.20L415.80 444.55L413.45 442.20Z"/>
<path d="M418.40 437.05L420.75 439.40L418.40 441.75L416.05 439.40Z"/>
<path d="M405.20 444.35L407.55 446.70L405.20 449.05L402.85 446.70Z"/>
<path d="M391.30 457.05L393.65 459.40L391.30 461.75L388.95 459.40Z"/>
<path d="M387.40 466.45L389.75 468.80L387.40 471.15L385.05 468.80Z"/>
</g>
<line x1="385" y1="473" x2="510.2" y2="340" stroke="#c4c4c4" stroke-width="1"/>
<line x1="389" y1="463.1" x2="490.75" y2="368.75" stroke="#000" stroke-width="1.75"/>
<rect x="385" y="340" width="125.20" height="133.00" fill="none" stroke="#000" stroke-width="2"/>
<g fill="#4a4a4a">
<text transform="translate(401.60,361.00)" font-size="12.8" font-style="italic">R</text>
<text transform="translate(413.00,355.60) scale(0.91,1.0)" font-size="9.5">2</text>
<text transform="translate(420.50,361.00) scale(0.91,1.0)" font-size="13">=</text>
<text transform="translate(430.80,361.00) scale(0.91,1.0)" font-size="13">0.972</text>
<text transform="translate(401.60,376.40)" font-size="12.8" font-style="italic">P</text>
<text transform="translate(415.20,376.40) scale(0.91,1.0)" font-size="13">&lt;</text>
<text transform="translate(425.00,376.40) scale(0.91,1.0)" font-size="13">0.001</text>
<text transform="translate(466.90,461.20)" font-size="12">(Hle<tspan font-size="8.5" dy="1.8">0.8</tspan><tspan dy="-1.8">)</tspan></text>
</g>
<text transform="translate(12.5,243) rotate(-90)" text-anchor="middle" font-size="13" font-weight="bold" fill="#111">Predicted wood density (kg m<tspan font-size="9" dy="-5">−3</tspan><tspan dy="5">)</tspan></text>
<text x="274.6" y="508" text-anchor="middle" font-size="13" font-weight="bold" fill="#111">Measured wood density (kg m<tspan font-size="9" dy="-5">−3</tspan><tspan dy="5">)</tspan></text>
</g></svg>
</body></html>
